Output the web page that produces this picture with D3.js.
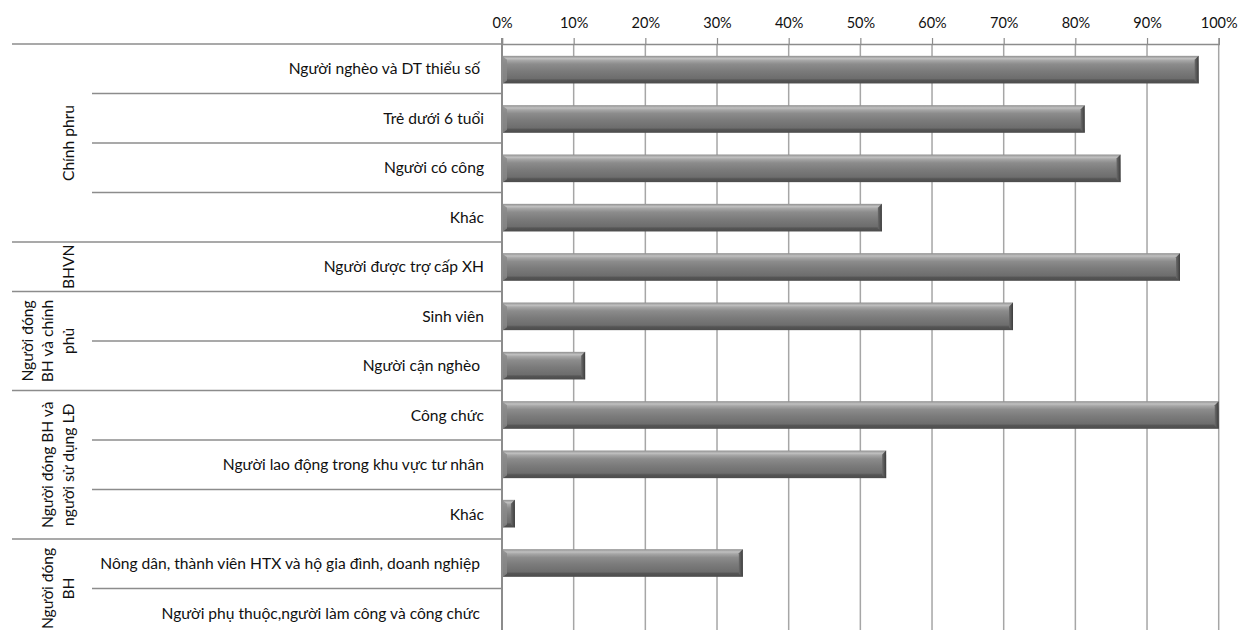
<!DOCTYPE html>
<html>
<head>
<meta charset="utf-8">
<script src="https://cdn.jsdelivr.net/npm/d3@7/dist/d3.min.js"></script>
<style>
  html, body { margin: 0; padding: 0; background: #fff; }
  svg { display: block; }
  text { font-family: Lato, "Open Sans", sans-serif; fill: #111; }
</style>
</head>
<body>
<svg id="chart" width="1239" height="630"></svg>
<script>
// Coverage share by beneficiary group (fraction of 1)
const categories = [
  "Người nghèo và DT thiểu số ",
  "Trẻ dưới 6 tuổi",
  "Người có công",
  "Khác",
  "Người được trợ cấp XH",
  "Sinh viên",
  "Người cận nghèo ",
  "Công chức",
  "Người lao động trong khu vực tư nhân",
  "Khác",
  "Nông dân, thành viên HTX và hộ gia đình, doanh nghiệp ",
  "Người phụ thuộc,người làm công và công chức "
];
const values = [0.972, 0.813, 0.863, 0.530, 0.946, 0.713, 0.116, 1.000, 0.536, 0.018, 0.336, 0.0];

// Paying party groups: label lines and number of rows each covers
const groupLabels = [
  ["Chính phru"],
  ["BHVN"],
  ["Người đóng", "BH và chính", "phủ"],
  ["Người đóng BH và", "người sử dụng LĐ"],
  ["Người đóng", "BH"]
];
const groupSizes = [4, 1, 2, 3, 2];
const tickValues = [0, 0.1, 0.2, 0.3, 0.4, 0.5, 0.6, 0.7, 0.8, 0.9, 1.0];

const svg = d3.select("#chart");
const plotLeft = 502, plotRight = 1218.7, plotTop = 44, rowStep = 49.5;
const plotBottom = plotTop + rowStep * categories.length;

const x = d3.scaleLinear().domain([0, 1]).range([plotLeft, plotRight]);
const rows = d3.scaleBand().domain(d3.range(categories.length)).range([plotTop, plotBottom]).padding(0);
const bars = d3.scaleBand().domain(d3.range(categories.length)).range([plotTop, plotBottom])
  .paddingInner(0.44).paddingOuter(0.24);

// gradients for the bevelled bars
const defs = svg.append("defs");
const g1 = defs.append("linearGradient").attr("id", "barFill").attr("x1", 0).attr("y1", 0).attr("x2", 0).attr("y2", 1);
[[0, "#8e8e8e"], [0.05, "#a8a8a8"], [0.1, "#c0c0c0"], [0.17, "#a6a6a6"], [0.3, "#8c8c8c"],
 [0.55, "#7b7b7b"], [0.82, "#6d6d6d"], [0.88, "#555"], [1, "#4c4c4c"]]
  .forEach(([o, c]) => g1.append("stop").attr("offset", o).attr("stop-color", c));
const g2 = defs.append("linearGradient").attr("id", "endFill").attr("x1", 0).attr("y1", 0).attr("x2", 1).attr("y2", 0);
[[0, "#6a6a6a"], [0.5, "#555"], [1, "#3c3c3c"]]
  .forEach(([o, c]) => g2.append("stop").attr("offset", o).attr("stop-color", c));

// vertical gridlines
svg.append("g").selectAll("line").data(tickValues.slice(1)).join("line")
  .attr("x1", d => x(d)).attr("x2", d => x(d))
  .attr("y1", plotTop).attr("y2", plotBottom)
  .attr("stroke", "#a6a6a6").attr("stroke-width", 1.5);

// top axis
const axis = svg.append("g").attr("transform", `translate(0,${plotTop})`)
  .call(d3.axisTop(x).tickValues(tickValues).tickFormat(d3.format(".0%")).tickSize(6).tickPadding(10));
axis.select(".domain").attr("stroke", "#8c8c8c").attr("stroke-width", 1.5);
axis.selectAll(".tick line").attr("stroke", "#8c8c8c").attr("stroke-width", 1.2);
axis.selectAll(".tick text").style("font-family", "Lato, sans-serif").style("font-size", "14.5px").attr("fill", "#111");

// row separators: group boundaries run into the group label column
const groupStarts = d3.cumsum([0].concat(groupSizes)).slice(0, -1);
const groupStartSet = new Set(groupStarts);
svg.append("g").selectAll("line").data(d3.range(categories.length)).join("line")
  .attr("x1", i => groupStartSet.has(i) ? 12 : 92).attr("x2", plotLeft)
  .attr("y1", i => rows(i)).attr("y2", i => rows(i))
  .attr("stroke", "#8c8c8c").attr("stroke-width", 1.5);

// value axis line
svg.append("line").attr("x1", plotLeft).attr("x2", plotLeft).attr("y1", plotTop - 6).attr("y2", plotBottom)
  .attr("stroke", "#8c8c8c").attr("stroke-width", 2);

// bars
const barG = svg.append("g").selectAll("g").data(values.map((v, i) => ({ v, i })).filter(d => d.v > 0)).join("g");
barG.append("rect")
  .attr("x", x(0) + 1).attr("y", d => bars(d.i))
  .attr("width", d => x(d.v) - x(0) - 1).attr("height", bars.bandwidth())
  .attr("fill", "url(#barFill)");
// lighter bevel at the base end
barG.append("path")
  .attr("d", d => {
    const y0 = bars(d.i), h = bars.bandwidth(), x0 = x(0) + 1;
    const b = Math.min(4, (x(d.v) - x0) / 3);
    return `M${x0},${y0 + 1}L${x0 + b},${y0 + 4}L${x0 + b},${y0 + h - 3}L${x0},${y0 + h}Z`;
  })
  .attr("fill", "#8a8a8a").attr("opacity", 0.8);
// darker cap at the value end
barG.append("path")
  .attr("d", d => {
    const y0 = bars(d.i), h = bars.bandwidth(), x1 = x(d.v);
    const b = Math.min(4, (x1 - x(0)) / 3);
    return `M${x1 - b},${y0 + 4}L${x1},${y0}L${x1},${y0 + h}L${x1 - b},${y0 + h - 3}Z`;
  })
  .attr("fill", "url(#endFill)");

// category labels
svg.append("g").selectAll("text").data(categories).join("text")
  .attr("x", 484).attr("y", (d, i) => rows(i) + rows.bandwidth() / 2)
  .attr("dy", "0.36em").attr("text-anchor", "end")
  .style("font-size", "15.6px").style("white-space", "pre")
  .text(d => d);

// group labels, rotated
const lineGap = 20.5;
const grp = svg.append("g").selectAll("text").data(groupLabels).join("text")
  .attr("transform", (d, gi) => {
    const y0 = rows(groupStarts[gi]);
    const y1 = y0 + rowStep * groupSizes[gi];
    const cx = 68 - (d.length - 1) * lineGap;
    return `translate(${cx},${(y0 + y1) / 2}) rotate(-90)`;
  })
  .attr("text-anchor", "middle").style("font-size", "15.6px");
grp.selectAll("tspan").data(d => d).join("tspan")
  .attr("x", 0).attr("dy", (d, i) => i === 0 ? "0.36em" : lineGap)
  .text(d => d);
</script>
</body>
</html>
